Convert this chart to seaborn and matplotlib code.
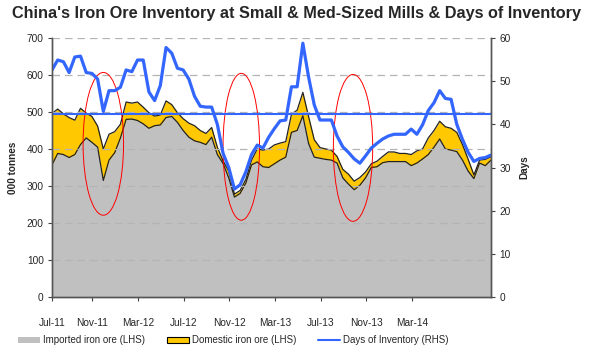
import numpy as np
import seaborn as sns
import matplotlib.pyplot as plt
from matplotlib.patches import Patch, Ellipse
from matplotlib.lines import Line2D

# Semi-monthly readings, Jul-11 .. mid-2014
total_ore = [496, 508, 495, 485, 478, 510, 497, 488, 462, 400, 440, 447, 467, 527, 524, 527,
             513, 498, 489, 492, 530, 520, 498, 482, 470, 463, 450, 442, 458, 405, 368, 340,
             278, 288, 318, 370, 400, 397, 400, 411, 416, 420, 494, 505, 553, 488, 425, 404,
             400, 397, 380, 345, 332, 313, 323, 338, 360, 367, 380, 392, 392, 388, 388, 385,
             395, 400, 430, 450, 475, 460, 456, 445, 412, 372, 330, 370, 372, 379]
imported_ore = [357, 388, 385, 377, 385, 412, 430, 418, 405, 315, 370, 390, 430, 480, 481, 477,
                468, 456, 463, 465, 485, 488, 472, 450, 432, 422, 418, 412, 432, 385, 361, 322,
                270, 280, 308, 357, 365, 352, 350, 360, 370, 378, 445, 450, 490, 415, 378, 375,
                372, 370, 362, 322, 305, 290, 302, 322, 350, 352, 363, 366, 366, 366, 366, 355,
                362, 373, 385, 405, 427, 400, 397, 393, 370, 340, 320, 362, 355, 370]
days_inv = [52.6, 54.9, 54.5, 52.0, 55.6, 55.8, 52.0, 51.8, 50.5, 43.0, 47.8, 47.8, 48.6, 52.6,
            52.2, 54.9, 54.9, 47.5, 45.5, 49.0, 57.8, 56.5, 53.0, 52.6, 50.5, 46.5, 44.2, 44.0,
            44.0, 40.0, 33.3, 30.0, 25.0, 26.0, 29.0, 33.0, 35.2, 34.5, 37.0, 39.0, 40.8, 41.0,
            48.7, 48.7, 58.8, 51.0, 44.5, 41.0, 41.0, 41.0, 37.3, 34.8, 33.5, 32.0, 31.0, 32.7,
            34.5, 35.6, 36.6, 37.3, 37.7, 37.7, 37.7, 38.9, 37.7, 39.9, 43.2, 45.0, 47.8, 46.0,
            45.8, 40.0, 36.5, 33.5, 31.4, 32.1, 32.3, 32.9]
avg_days = 42.4

month_labels = ['Jul-11', 'Nov-11', 'Mar-12', 'Jul-12', 'Nov-12', 'Mar-13', 'Jul-13', 'Nov-13', 'Mar-14']

# highlighted periods (centre index, centre tonnes, width, height)
circles = [(9.0, 414, 7.1, 386), (33.2, 406, 6.4, 397), (52.8, 403, 6.9, 397)]

x = np.arange(len(total_ore))

sns.set_style('white')
plt.rcParams['font.family'] = ['Liberation Sans', 'DejaVu Sans']

fig = plt.figure(figsize=(5.89, 3.61), dpi=100)
ax = fig.add_axes([0.0883, 0.1773, 0.7453, 0.7174])

gray = '#C0C0C0'
gold = '#FFC800'
blue = '#3366FF'

ax.fill_between(x, 0, imported_ore, color=gray, lw=0)
ax.fill_between(x, imported_ore, total_ore, color=gold, lw=0)
sns.lineplot(x=x, y=imported_ore, ax=ax, color='#222222', lw=0.9)
sns.lineplot(x=x, y=total_ore, ax=ax, color='#222222', lw=0.9)

for cx, cy, w, h in circles:
    ax.add_patch(Ellipse((cx, cy), w, h, fill=False, edgecolor='red', lw=0.7, zorder=5))

ax.set_xlim(0, len(x) - 1)
ax.set_ylim(0, 700)
ax.set_yticks(range(0, 701, 100))
ax.yaxis.grid(True, linestyle=(0, (6, 4)), color='#B4B4B4', lw=0.9)
ax.set_axisbelow(False)
tick_pos = [max(0, 8 * k - 0.9) for k in range(len(month_labels))]
ax.set_xticks(tick_pos)
ax.set_xticklabels(month_labels)
ax.set_ylabel('000 tonnes', fontsize=7.2, fontweight='bold', labelpad=6)
ax.tick_params(axis='x', labelsize=7.3, length=3, direction='out', color='#444444',
               bottom=True, pad=12)
ax.tick_params(axis='y', labelsize=7.3, length=3, direction='out', color='#444444',
               left=True, pad=3)

ax2 = ax.twinx()
sns.lineplot(x=x, y=days_inv, ax=ax2, color=blue, lw=2.3)
ax2.axhline(avg_days, color=blue, lw=1.5)
ax2.set_ylim(0, 60)
ax2.set_yticks(range(0, 61, 10))
ax2.set_ylabel('Days', fontsize=7.2, fontweight='bold', labelpad=6)
ax2.tick_params(axis='y', labelsize=7.3, length=3, direction='out', color='#444444', right=True, pad=3)

for a in (ax, ax2):
    a.spines['top'].set_visible(False)
    for s in ('left', 'right', 'bottom'):
        a.spines[s].set_color('#555555')
        a.spines[s].set_linewidth(1.0)

fig.text(0.503, 0.962, "China's Iron Ore Inventory at Small & Med-Sized Mills & Days of Inventory",
         ha='center', va='center', fontsize=11.7, fontweight='bold')

handles = [Patch(facecolor=gray, edgecolor='none'),
           Patch(facecolor=gold, edgecolor='black', lw=0.8),
           Line2D([0], [0], color=blue, lw=1.5)]
labels = ['Imported iron ore (LHS)', 'Domestic iron ore (LHS)', 'Days of Inventory (RHS)']
fig.legend(handles, labels, loc='center', bbox_to_anchor=(0.396, 0.058), ncol=3, frameon=False,
           fontsize=7, handlelength=2.3, handleheight=0.6, columnspacing=2.2, handletextpad=0.3)

fig.savefig('out.png', dpi=100)
